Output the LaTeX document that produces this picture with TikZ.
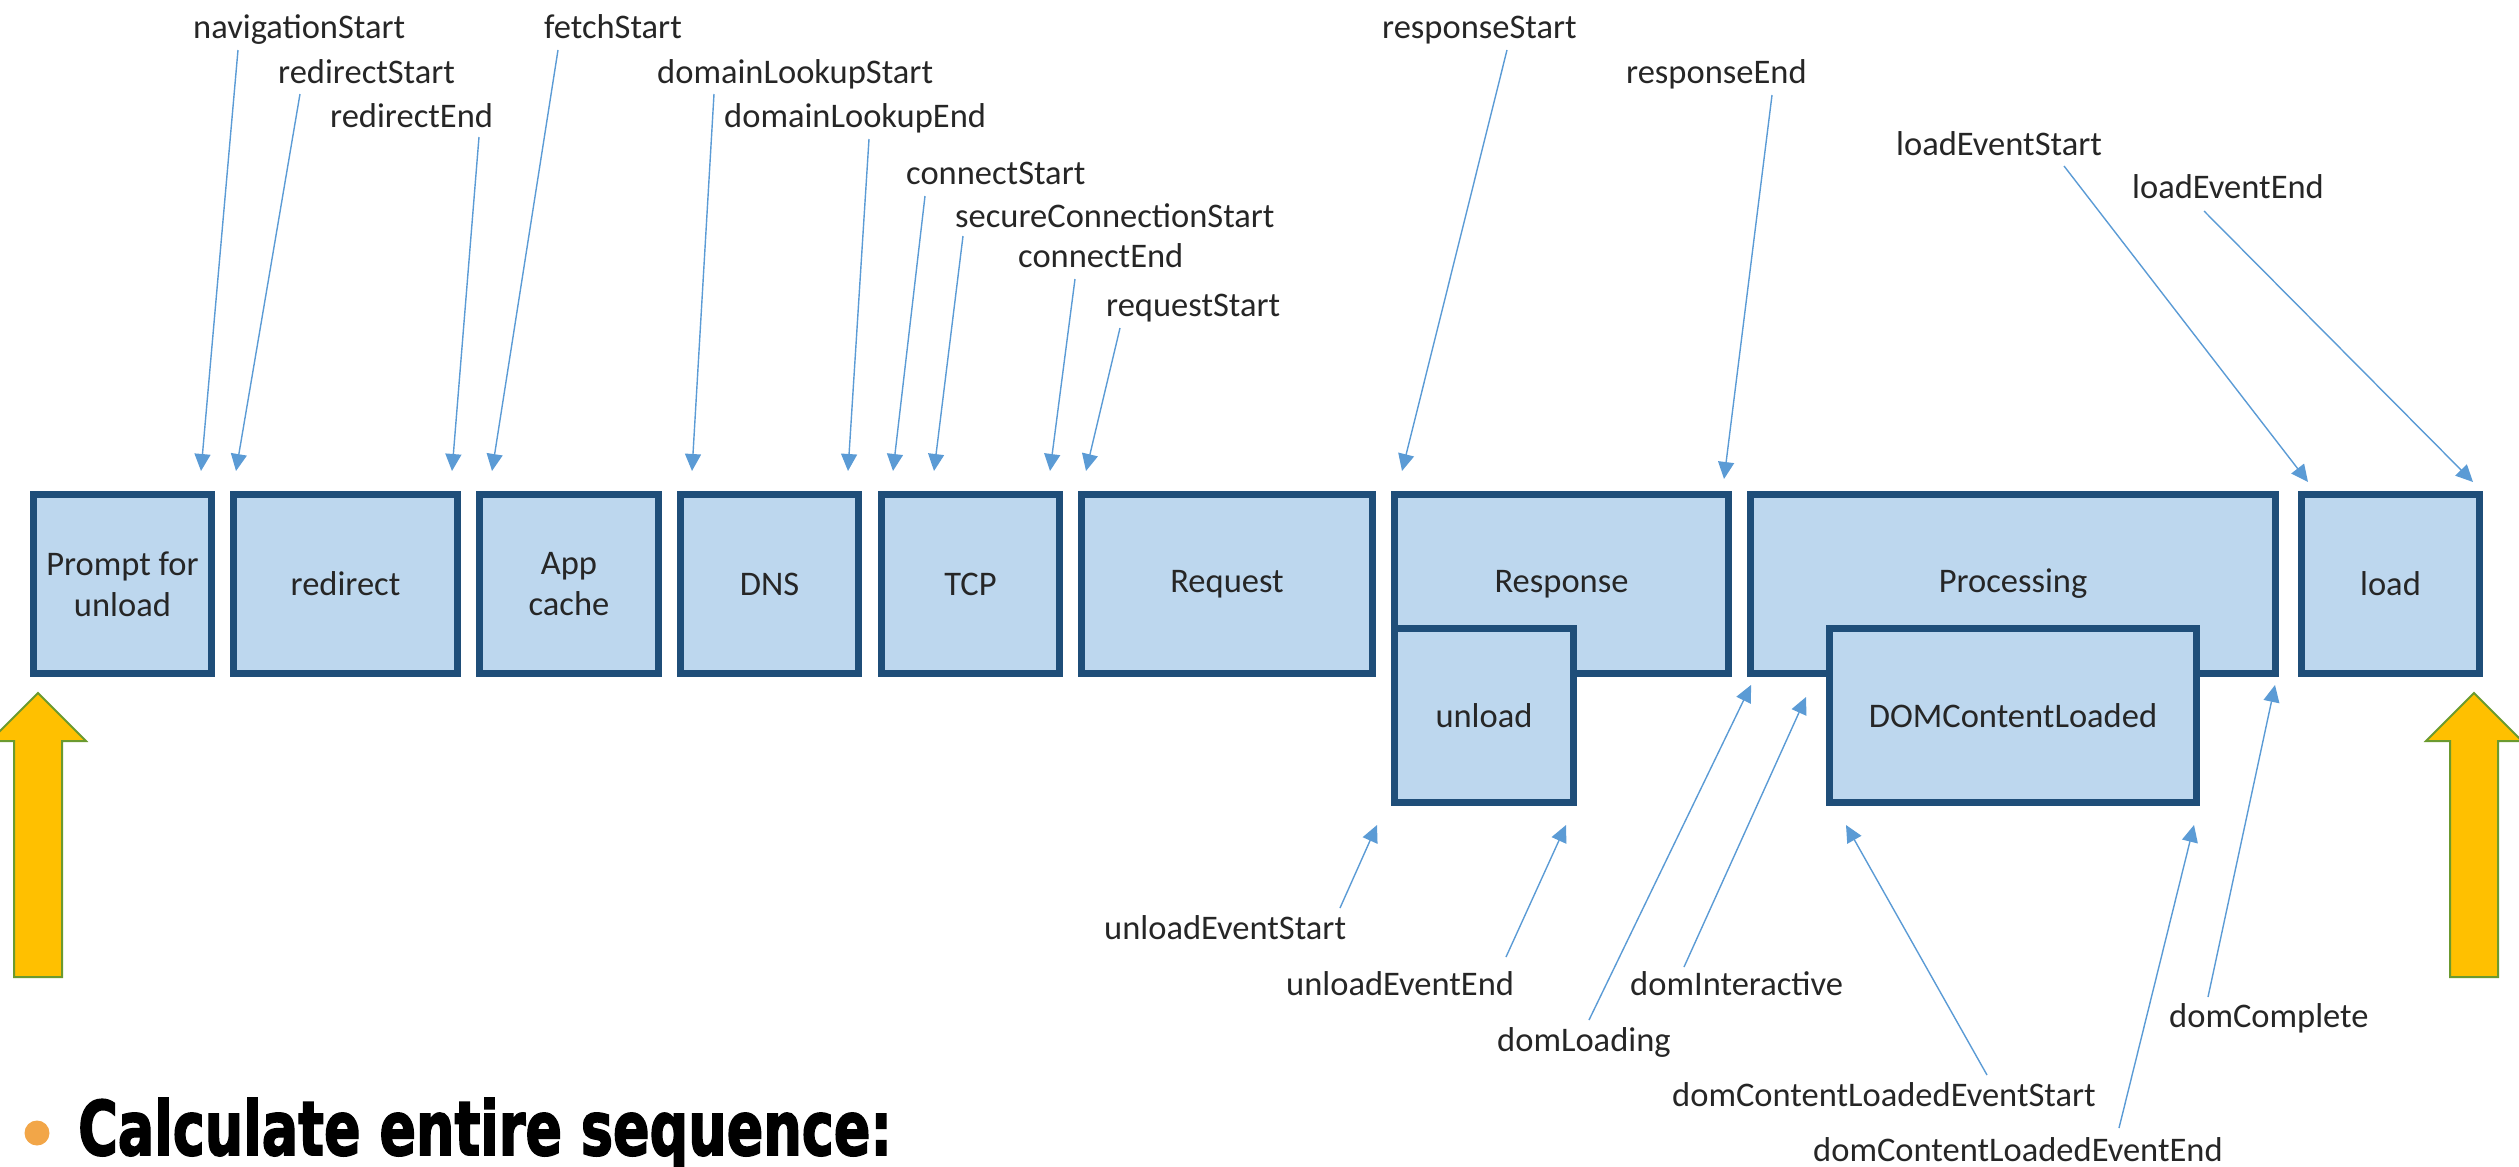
\documentclass[tikz,border=0pt]{standalone}
\usepackage{fontspec}
\usepackage{graphicx}
\setmainfont{Carlito}
\newfontfamily\headfont{DejaVu Sans}[BoldFeatures={FakeBold=2.5}]
\usetikzlibrary{arrows.meta}

\definecolor{boxfill}{HTML}{BDD7EE}
\definecolor{boxline}{HTML}{1F4E79}
\definecolor{evline}{HTML}{5B9BD5}
\definecolor{arrowfill}{HTML}{FFC000}
\definecolor{arrowline}{HTML}{6B9A2F}
\definecolor{bulletc}{HTML}{F2A648}

\begin{document}
\begin{tikzpicture}[x=1pt,y=-1pt,
  stage/.style={draw=boxline, fill=boxfill, line width=7pt, inner sep=0pt,
    font=\fontsize{34.5}{41}\selectfont, align=center, text=black!85},
  evlabel/.style={anchor=base west, inner sep=0pt,
    font=\fontsize{34.5}{41}\selectfont, text=black!85},
  evarrow/.style={draw=evline, line width=1.4pt,
    -{Triangle[length=17pt,width=16pt]}},
  bigarrow/.style={fill=arrowfill, draw=arrowline, line width=2pt, line join=miter}
]
\useasboundingbox (0,0) rectangle (2519,1167);

% ---- stages of the navigation ----
\node[stage, minimum width=178pt, minimum height=179pt] (prompt)   at (122.5,584) {Prompt for\\unload};
\node[stage, minimum width=224pt, minimum height=179pt] (redirect) at (345.5,584) {redirect};
\node[stage, minimum width=179pt, minimum height=179pt] (appcache) at (569,584)   {App\\cache};
\node[stage, minimum width=178pt, minimum height=179pt] (dns)      at (769.5,584) {DNS};
\node[stage, minimum width=178pt, minimum height=179pt] (tcp)      at (970.5,584) {TCP};
\node[stage, minimum width=291pt, minimum height=179pt] (request)  at (1227,584)  {Request};
\node[stage, minimum width=334pt, minimum height=179pt] (response) at (1561.5,584) {Response};
\node[stage, minimum width=525pt, minimum height=179pt] (processing) at (2013,584) {Processing};
\node[stage, minimum width=178pt, minimum height=179pt] (load)     at (2390.5,584) {load};
\node[stage, minimum width=179pt, minimum height=174pt] (unload)   at (1484,715.5) {unload};
\node[stage, minimum width=367pt, minimum height=174pt] (domcl)    at (2013,715.5) {DOMContentLoaded};

% ---- timing attributes above the stages ----
\node[evlabel] (navigationStart)       at (193,38)   {navigationStart};
\node[evlabel] (redirectStart)         at (278,83)   {redirectStart};
\node[evlabel] (redirectEnd)           at (330,127)  {redirectEnd};
\node[evlabel] (fetchStart)            at (544,38)   {fetchStart};
\node[evlabel] (domainLookupStart)     at (657,83)   {domainLookupStart};
\node[evlabel] (domainLookupEnd)       at (724,127)  {domainLookupEnd};
\node[evlabel] (connectStart)          at (906,184)  {connectStart};
\node[evlabel] (secureConnectionStart) at (955,227)  {secureConnectionStart};
\node[evlabel] (connectEnd)            at (1018,267) {connectEnd};
\node[evlabel] (requestStart)          at (1106,316) {requestStart};
\node[evlabel] (responseStart)         at (1382,38)  {responseStart};
\node[evlabel] (responseEnd)           at (1626,83)  {responseEnd};
\node[evlabel] (loadEventStart)        at (1896,155) {loadEventStart};
\node[evlabel] (loadEventEnd)          at (2132,198) {loadEventEnd};

% ---- timing attributes below the stages ----
\node[evlabel] (unloadEventStart)      at (1104,939)  {unloadEventStart};
\node[evlabel] (unloadEventEnd)        at (1286,995)  {unloadEventEnd};
\node[evlabel] (domLoading)            at (1497,1051) {domLoading};
\node[evlabel] (domInteractive)        at (1630,995)  {domInteractive};
\node[evlabel] (domCLStart)            at (1672,1106) {domContentLoadedEventStart};
\node[evlabel] (domCLEnd)              at (1813,1161) {domContentLoadedEventEnd};
\node[evlabel] (domComplete)           at (2169,1027) {domComplete};

% ---- connector ends ----
\coordinate (s1)  at (238,50);   \coordinate (t1)  at (201,471);
\coordinate (s2)  at (300,94);   \coordinate (t2)  at (236,471);
\coordinate (s3)  at (479,137);  \coordinate (t3)  at (452,471);
\coordinate (s4)  at (558,50);   \coordinate (t4)  at (492,471);
\coordinate (s5)  at (714,94);   \coordinate (t5)  at (692,471);
\coordinate (s6)  at (869,139);  \coordinate (t6)  at (848,471);
\coordinate (s7)  at (925,196);  \coordinate (t7)  at (893,471);
\coordinate (s8)  at (963,236);  \coordinate (t8)  at (934,471);
\coordinate (s9)  at (1075,279); \coordinate (t9)  at (1050,471);
\coordinate (s10) at (1120,328); \coordinate (t10) at (1086,471);
\coordinate (s11) at (1507,50);  \coordinate (t11) at (1402,471);
\coordinate (s12) at (1772,95);  \coordinate (t12) at (1724,479);
\coordinate (s13) at (2064,166); \coordinate (t13) at (2308,482);
\coordinate (s14) at (2204,211); \coordinate (t14) at (2473,482);
\coordinate (s15) at (1340,908); \coordinate (t15) at (1377,825);
\coordinate (s16) at (1506,957); \coordinate (t16) at (1566,825);
\coordinate (s17) at (1589,1020);\coordinate (t17) at (1751,685);
\coordinate (s18) at (1684,967); \coordinate (t18) at (1806,697);
\coordinate (s19) at (1987,1075);\coordinate (t19) at (1846,825);
\coordinate (s20) at (2119,1128);\coordinate (t20) at (2194,825);
\coordinate (s21) at (2208,997); \coordinate (t21) at (2275,685);

\foreach \i in {1,...,21} { \draw[evarrow] (s\i) -- (t\i); }

% ---- start and end markers ----
\draw[bigarrow] (14,977) -- (14,741) -- (-10,741) -- (38,693) -- (86,741) -- (62,741) -- (62,977) -- cycle;
\draw[bigarrow] (2450,977) -- (2450,741) -- (2426,741) -- (2474,693) -- (2522,741) -- (2498,741) -- (2498,977) -- cycle;

% ---- bullet point ----
\node[circle, fill=bulletc, minimum size=25pt, inner sep=0pt] (bullet) at (37,1133) {};
\node[anchor=base west, inner sep=0pt, font=\headfont\bfseries\fontsize{75}{80}\selectfont] (heading)
  at (78,1155) {\scalebox{0.72}[1]{Calculate entire sequence:}};
\end{tikzpicture}
\end{document}
